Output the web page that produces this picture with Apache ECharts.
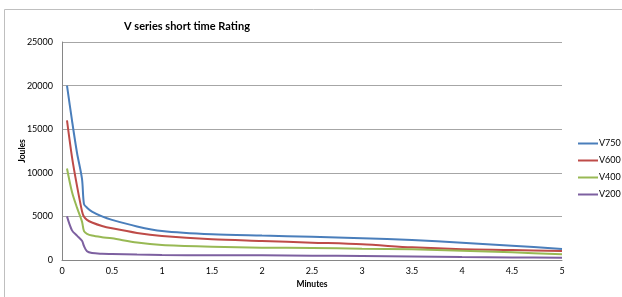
<!DOCTYPE html>
<html><head><meta charset="utf-8">
<script src="https://cdn.jsdelivr.net/npm/echarts@6/dist/echarts.min.js"></script>
<style>html,body{margin:0;padding:0;background:#fff}#c{width:622px;height:297px}</style>
</head><body><div id="c"></div>
<script>
const minutes = [0.05, 0.1, 0.15, 0.2, 0.22, 0.25, 0.3, 0.4, 0.5, 0.75, 1, 1.5, 2, 2.5, 3, 3.5, 4, 4.5, 5];
const v750 = [20000, 16000, 12300, 9300, 6400, 6000, 5550, 5000, 4600, 3850, 3330, 2950, 2800, 2670, 2490, 2290, 1990, 1640, 1260];
const v600 = [16000, 11800, 8500, 5600, 4950, 4600, 4300, 3900, 3630, 3100, 2750, 2370, 2180, 1990, 1800, 1450, 1230, 1150, 1030];
const v400 = [10500, 7800, 6000, 4400, 3300, 3000, 2800, 2620, 2490, 2000, 1720, 1530, 1410, 1380, 1300, 1230, 1070, 880, 650];
const v200 = [5000, 3400, 2800, 2200, 1600, 1000, 800, 720, 690, 620, 570, 550, 540, 500, 460, 400, 340, 300, 270];
const seriesNames = ['V750', 'V600', 'V400', 'V200'];
const seriesData = [v750, v600, v400, v200];
const colors = ['#4A7EBB', '#BE4B48', '#98B954', '#7D60A0'];
const xTicks = [0, 0.5, 1, 1.5, 2, 2.5, 3, 3.5, 4, 4.5, 5];
const yTicks = [0, 5000, 10000, 15000, 20000, 25000];
const title = 'V series short time Rating';
const xTitle = 'Minutes';
const yTitle = 'Joules';

const font = 'Lato, "Open Sans", sans-serif';
const chart = echarts.init(document.getElementById('c'), null, {renderer: 'canvas'});
chart.setOption({
  animation: false,
  color: colors,
  title: {text: title, left: 124, top: 21, padding: 0, textStyle: {fontFamily: font, fontSize: 11, fontWeight: 'bold', color: '#000'}},
  legend: {
    orient: 'vertical', left: 578, top: 139, padding: 0, itemGap: 8, itemWidth: 20, itemHeight: 9,
    icon: 'path://M0,0 L20,0 L20,2 L0,2 Z',
    textStyle: {fontFamily: font, fontSize: 9, color: '#000', padding: [0, 0, 0, -4]},
    data: seriesNames
  },
  grid: {left: 62, right: 60, top: 42, bottom: 37},
  xAxis: {
    type: 'value', min: 0, max: 5, interval: 0.5,
    name: xTitle, nameLocation: 'middle', nameGap: 20, nameMoveOverlap: false,
    nameTextStyle: {fontFamily: font, fontSize: 8.5, fontWeight: 'bold', color: '#000'},
    axisLine: {show: true, lineStyle: {color: '#868686'}},
    axisTick: {show: false},
    splitLine: {show: false},
    axisLabel: {fontFamily: font, fontSize: 9, color: '#000', margin: 7,
      formatter: v => xTicks.includes(v) ? String(v) : ''}
  },
  yAxis: {
    type: 'value', min: 0, max: 25000, interval: 5000,
    name: yTitle, nameLocation: 'middle', nameGap: 35, nameRotate: 90, nameMoveOverlap: false,
    nameTextStyle: {fontFamily: font, fontSize: 8.5, fontWeight: 'bold', color: '#000'},
    axisLine: {show: true, lineStyle: {color: '#868686'}},
    axisTick: {show: false},
    splitLine: {show: true, lineStyle: {color: '#A6A6A6', width: 1}},
    axisLabel: {fontFamily: font, fontSize: 9, color: '#000', margin: 9,
      formatter: v => yTicks.includes(v) ? String(v) : ''}
  },
  graphic: [
    {type: 'polyline', shape: {points: [[4.5, 297], [4.5, 9.5], [622, 9.5]]}, style: {stroke: '#BFBFBF', lineWidth: 1, fill: null}, silent: true}
  ],
  series: seriesNames.map((n, i) => ({
    name: n, type: 'line', showSymbol: false, smooth: 0.3,
    lineStyle: {width: 2},
    data: minutes.map((m, j) => [m, seriesData[i][j]])
  }))
});
</script></body></html>
